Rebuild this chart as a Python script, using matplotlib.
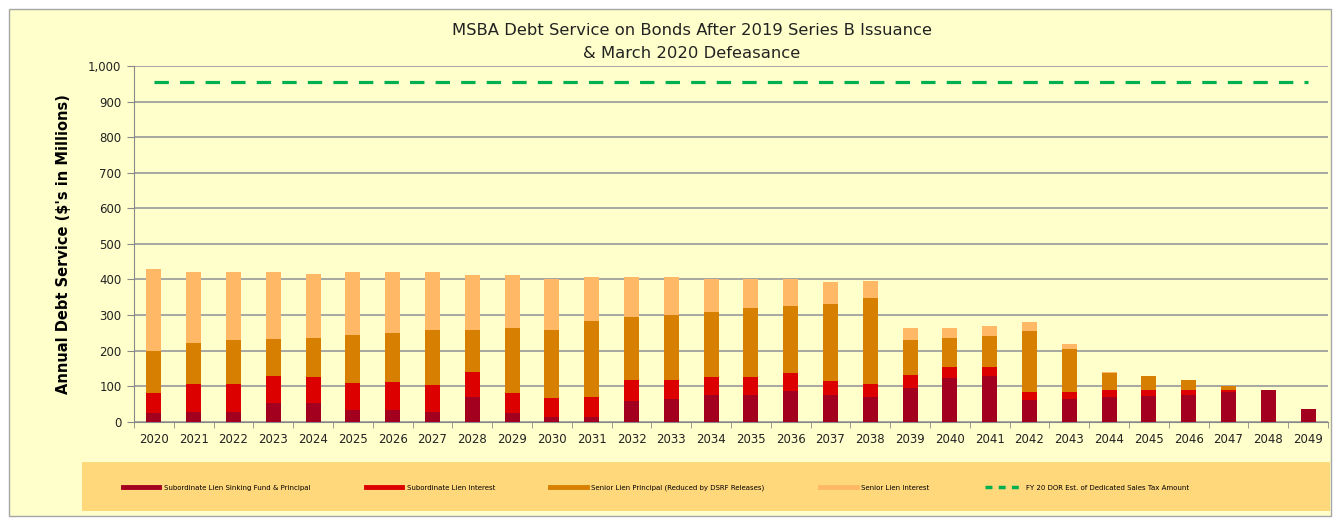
import matplotlib
matplotlib.use("Agg")
import matplotlib.pyplot as plt
from matplotlib.patches import Rectangle
from matplotlib.lines import Line2D
import numpy as np

years = [str(y) for y in range(2020, 2050)]

# stacked components, $ millions
sub_sinking = [24, 28, 28, 52, 52, 33, 33, 28, 70, 24,
               14, 14, 58, 63, 75, 75, 87, 75, 70, 95,
               122, 128, 61, 65, 70, 72, 75, 84, 88, 37]
sub_interest = [56, 78, 78, 76, 73, 77, 80, 74, 69, 56,
                52, 56, 59, 54, 51, 51, 49, 39, 36, 36,
                33, 27, 23, 19, 18, 16, 14, 6, 0, 0]
senior_principal = [119, 115, 123, 104, 110, 133, 137, 156, 119, 184,
                    192, 213, 176, 183, 183, 193, 190, 217, 242, 98,
                    81, 85, 170, 119, 48, 40, 28, 9, 0, 0]
senior_interest = [230, 199, 191, 188, 180, 177, 172, 162, 154, 148,
                   142, 123, 113, 106, 91, 81, 74, 62, 47, 35,
                   28, 28, 25, 15, 5, 1, 1, 2, 0, 0]
sales_tax = 955

c_sink = "#A3001F"
c_int = "#DC0000"
c_sprin = "#D67F00"
c_sint = "#FFB865"
c_green = "#00B050"

fig = plt.figure(figsize=(13.33, 5.19), dpi=100)
fig.patch.set_facecolor("white")

# chart area background + border
W, H = 1333, 519
fig.patches.append(Rectangle((9 / W, 1 - 516 / H), 1322 / W, 507 / H, transform=fig.transFigure,
                             facecolor="#FFFFCC", edgecolor="#A6A6A6", linewidth=1, zorder=-2))
# legend band
fig.patches.append(Rectangle((82 / W, 1 - 511 / H), 1248 / W, 49 / H, transform=fig.transFigure,
                             facecolor="#FFD87C", edgecolor="none", zorder=-1))

ax = fig.add_axes([134 / W, 97.3 / H, 1194 / W, 355.7 / H])
ax.set_facecolor("#FFFFCC")

x = np.arange(len(years))
w = 0.38
b1 = np.array(sub_sinking)
b2 = b1 + np.array(sub_interest)
b3 = b2 + np.array(senior_principal)
ax.bar(x, sub_sinking, w, color=c_sink, zorder=3)
ax.bar(x, sub_interest, w, bottom=b1, color=c_int, zorder=3)
ax.bar(x, senior_principal, w, bottom=b2, color=c_sprin, zorder=3)
ax.bar(x, senior_interest, w, bottom=b3, color=c_sint, zorder=3)
ax.plot([x[0], x[-1]], [sales_tax, sales_tax], color=c_green, lw=2.3,
        dashes=(4.5, 3.5), zorder=4)

ax.set_xlim(-0.5, len(years) - 0.5)
ax.set_ylim(0, 1000)
ax.set_yticks(range(0, 1001, 100))
ax.set_yticklabels([f"{v:,}" for v in range(0, 1001, 100)], fontsize=8.5, color="#222222")
ax.set_xticks(x)
ax.set_xticklabels(years, fontsize=8.5, color="#222222")
ax.set_xticks(np.arange(-0.5, len(years), 1), minor=True)
ax.tick_params(axis="x", which="major", length=0, pad=8)
ax.tick_params(axis="x", which="minor", length=4, color="#888888")
ax.tick_params(axis="y", length=5, color="#888888", pad=4)
ax.grid(axis="y", color="#A0A0A0", lw=1.3, zorder=1)
for s in ["top", "right"]:
    ax.spines[s].set_visible(False)
ax.spines["left"].set_color("#888888")
ax.spines["bottom"].set_color("#888888")

ax.set_ylabel("Annual Debt Service ($'s in Millions)", fontsize=10.5, fontweight="bold", labelpad=12)

fig.text(692 / W, 1 - 42 / H, "MSBA Debt Service on Bonds After 2019 Series B Issuance\n& March 2020 Defeasance",
         ha="center", va="center", fontsize=11.8, linespacing=1.6, color="#222222")

handles = [
    Line2D([], [], color=c_sink, lw=3.5),
    Line2D([], [], color=c_int, lw=3.5),
    Line2D([], [], color=c_sprin, lw=3.5),
    Line2D([], [], color=c_sint, lw=3.5),
    Line2D([], [], color=c_green, lw=2.5, dashes=(2, 1.8)),
]
labels = [
    "Subordinate Lien Sinking Fund & Principal",
    "Subordinate Lien Interest",
    "Senior Lien Principal (Reduced by DSRF Releases)",
    "Senior Lien Interest",
    "FY 20 DOR Est. of Dedicated Sales Tax Amount",
]
fig.legend(handles, labels, loc="center", bbox_to_anchor=(0.492, 1 - 488 / H), ncol=5,
           frameon=False, fontsize=5, handlelength=5.3, columnspacing=8, handletextpad=0.6)

fig.savefig("out.png", dpi=100, facecolor=fig.get_facecolor())
